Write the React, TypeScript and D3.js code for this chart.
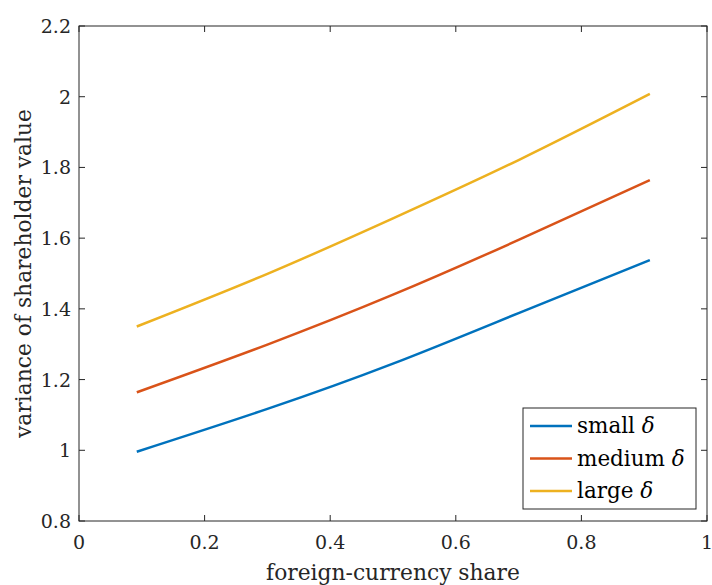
import React from "react";
import * as d3 from "d3";

// foreign-currency share (x) and variance for each delta level
const shares = [0.092, 0.3, 0.5, 0.7, 0.909];
const smallDelta = [0.996, 1.117, 1.245, 1.388, 1.538];
const mediumDelta = [1.164, 1.299, 1.44, 1.595, 1.764];
const largeDelta = [1.35, 1.499, 1.656, 1.821, 2.008];

const seriesNames = ["small", "medium", "large"];
const seriesColors = ["#0072BD", "#D95319", "#EDB120"];

const xTicks = [0, 0.2, 0.4, 0.6, 0.8, 1];
const yTicks = [0.8, 1, 1.2, 1.4, 1.6, 1.8, 2, 2.2];

const W = 712;
const H = 585;
const left = 79;
const right = 707;
const top = 26;
const bottom = 521;
const font = "DejaVu Serif, serif";
const axisColor = "#262626";

export default function App() {
  const x = d3.scaleLinear().domain([0, 1]).range([left, right]);
  const y = d3.scaleLinear().domain([0.8, 2.2]).range([bottom, top]);

  const line = d3
    .line<[number, number]>()
    .x(d => x(d[0]))
    .y(d => y(d[1]))
    .curve(d3.curveNatural);

  const allSeries = [smallDelta, mediumDelta, largeDelta];
  const tick = 6;

  // legend layout
  const lgX = 523, lgY = 408, lgW = 173, lgH = 101;
  const rowGap = 32.5;

  return (
    <svg width={W} height={H} style={{ position: "absolute", left: 0, top: 0, background: "#fff", fontFamily: font }}>
      {allSeries.map((vals, i) => (
        <path
          key={seriesNames[i]}
          d={line(shares.map((s, j) => [s, vals[j]] as [number, number])) || ""}
          fill="none"
          stroke={seriesColors[i]}
          strokeWidth={2.5}
        />
      ))}

      {/* axes box */}
      <rect x={left} y={top} width={right - left} height={bottom - top} fill="none" stroke={axisColor} strokeWidth={1} />

      {xTicks.map(t => (
        <g key={"x" + t}>
          <line x1={x(t)} x2={x(t)} y1={bottom} y2={bottom - tick} stroke={axisColor} />
          <line x1={x(t)} x2={x(t)} y1={top} y2={top + tick} stroke={axisColor} />
          <text x={x(t)} y={549} textAnchor="middle" fontSize={19} fill={axisColor}>
            {String(t)}
          </text>
        </g>
      ))}

      {yTicks.map(t => (
        <g key={"y" + t}>
          <line x1={left} x2={left + tick} y1={y(t)} y2={y(t)} stroke={axisColor} />
          <line x1={right} x2={right - tick} y1={y(t)} y2={y(t)} stroke={axisColor} />
          <text x={71} y={y(t) + 7} textAnchor="end" fontSize={19} fill={axisColor}>
            {String(t)}
          </text>
        </g>
      ))}

      <text x={(left + right) / 2} y={580} textAnchor="middle" fontSize={21.8} fill={axisColor}>
        foreign-currency share
      </text>
      <text
        transform={`translate(31, ${(top + bottom) / 2}) rotate(-90)`}
        textAnchor="middle"
        fontSize={21.8}
        fill={axisColor}
      >
        variance of shareholder value
      </text>

      {/* legend */}
      <rect x={lgX} y={lgY} width={lgW} height={lgH} fill="#fff" stroke={axisColor} strokeWidth={1} />
      {seriesNames.map((n, i) => {
        const cy = lgY + 18 + i * rowGap;
        return (
          <g key={"lg" + n}>
            <line x1={530} x2={572} y1={cy} y2={cy} stroke={seriesColors[i]} strokeWidth={2.5} />
            <text x={577} y={cy + 7} fontSize={21.5} fill="#000">
              {n + " "}
              <tspan fontStyle="italic">δ</tspan>
            </text>
          </g>
        );
      })}
    </svg>
  );
}
